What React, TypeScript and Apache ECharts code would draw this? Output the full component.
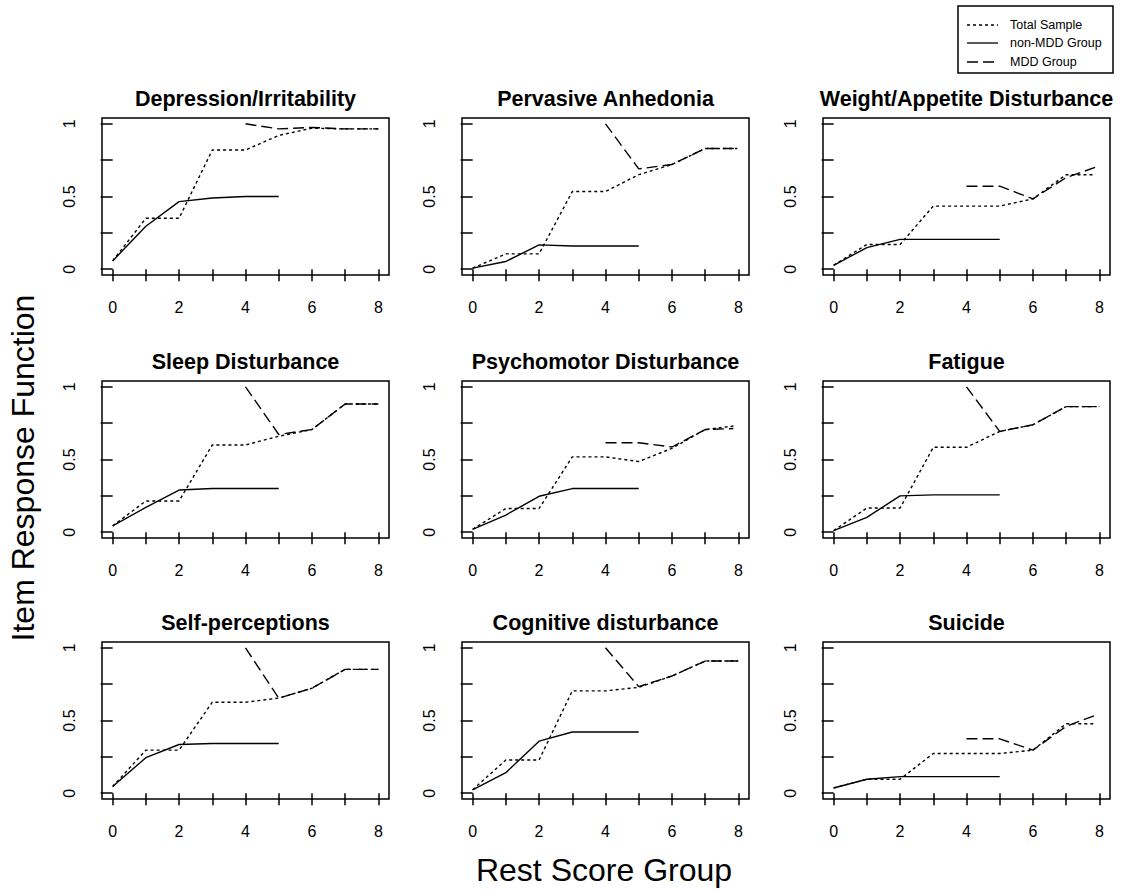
import React, { useEffect, useRef } from "react";
import * as echarts from "echarts";

const itemTitles = [
  "Depression/Irritability",
  "Pervasive Anhedonia",
  "Weight/Appetite Disturbance",
  "Sleep Disturbance",
  "Psychomotor Disturbance",
  "Fatigue",
  "Self-perceptions",
  "Cognitive disturbance",
  "Suicide",
];

// rest score groups (x positions); the last group sits a little below 8 in some panels
const restScore = [0, 1, 2, 3, 4, 5, 6, 7, 8];
const lastGroupScore = [8, 7.97, 7.87, 8, 7.85, 8, 8, 8, 7.87];

// Total Sample (groups 0..8)
const totalSample = [
  [0.057, 0.35, 0.35, 0.82, 0.82, 0.92, 0.97, 0.965, 0.965],
  [0.007, 0.105, 0.105, 0.534, 0.534, 0.65, 0.72, 0.83, 0.83],
  [0.027, 0.17, 0.17, 0.434, 0.434, 0.434, 0.484, 0.65, 0.65],
  [0.043, 0.215, 0.215, 0.6, 0.6, 0.66, 0.706, 0.882, 0.882],
  [0.02, 0.163, 0.163, 0.518, 0.518, 0.486, 0.577, 0.706, 0.73],
  [0.011, 0.166, 0.166, 0.584, 0.584, 0.693, 0.739, 0.864, 0.864],
  [0.046, 0.296, 0.296, 0.626, 0.626, 0.654, 0.722, 0.852, 0.852],
  [0.023, 0.228, 0.228, 0.704, 0.704, 0.728, 0.806, 0.909, 0.909],
  [0.036, 0.096, 0.096, 0.273, 0.273, 0.273, 0.296, 0.478, 0.478],
];

// non-MDD Group (groups 0..5)
const nonMddGroup = [
  [0.057, 0.295, 0.465, 0.49, 0.5, 0.5],
  [0.007, 0.053, 0.167, 0.16, 0.16, 0.16],
  [0.027, 0.148, 0.205, 0.205, 0.205, 0.205],
  [0.043, 0.17, 0.29, 0.3, 0.3, 0.3],
  [0.02, 0.118, 0.247, 0.3, 0.3, 0.3],
  [0.011, 0.102, 0.25, 0.257, 0.257, 0.257],
  [0.046, 0.244, 0.335, 0.342, 0.342, 0.342],
  [0.023, 0.141, 0.358, 0.421, 0.421, 0.421],
  [0.036, 0.096, 0.114, 0.114, 0.114, 0.114],
];

// MDD Group (groups 4..8)
const mddGroup = [
  [1.0, 0.965, 0.975, 0.965, 0.965],
  [1.0, 0.69, 0.72, 0.83, 0.83],
  [0.571, 0.571, 0.484, 0.63, 0.7],
  [1.0, 0.672, 0.706, 0.882, 0.882],
  [0.615, 0.615, 0.586, 0.706, 0.713],
  [1.0, 0.693, 0.739, 0.864, 0.864],
  [1.0, 0.654, 0.722, 0.852, 0.852],
  [1.0, 0.733, 0.806, 0.909, 0.909],
  [0.374, 0.374, 0.296, 0.46, 0.535],
];

const xTicks = [0, 1, 2, 3, 4, 5, 6, 7, 8];
const xTickLabels = [0, 2, 4, 6, 8];
const yTicks = [0, 0.25, 0.5, 0.75, 1];
const yTickLabels = [0, 0.5, 1];

const legendNames = ["Total Sample", "non-MDD Group", "MDD Group"];

const FONT = "'Liberation Sans', Arial, sans-serif";
const colLeft = [102, 462, 823];
const rowTop = [118, 381, 642];
const GW = 287;
const GH = 157;

export default function App() {
  const ref = useRef<HTMLDivElement>(null);
  useEffect(() => {
    if (!ref.current) return;
    const chart = echarts.init(ref.current, null, { renderer: "svg" });
    const grids: any[] = [];
    const xAxes: any[] = [];
    const yAxes: any[] = [];
    const titles: any[] = [];
    const series: any[] = [];
    const lineBase = { color: "#000", width: 1.4 };
    itemTitles.forEach((t, i) => {
      const r = Math.floor(i / 3);
      const c = i % 3;
      grids.push({
        left: colLeft[c],
        top: rowTop[r],
        width: GW,
        height: GH,
        show: true,
        borderColor: "#000",
        borderWidth: 1.5,
        backgroundColor: "transparent",
      });
      titles.push({
        text: t,
        left: colLeft[c] + GW / 2,
        top: rowTop[r] - 32,
        textAlign: "center",
        padding: 0,
        textStyle: { fontFamily: FONT, fontWeight: "bold", fontSize: 21.5, color: "#000", lineHeight: 26 },
      });
      xAxes.push({
        type: "value",
        gridIndex: i,
        min: -0.32,
        max: 8.32,
        axisLine: { show: false },
        splitLine: { show: false },
        axisTick: { show: true, length: 12, customValues: xTicks, lineStyle: { color: "#000", width: 1.5 } },
        axisLabel: { show: true, customValues: xTickLabels, margin: 24, fontFamily: FONT, fontSize: 16, color: "#000" },
      });
      yAxes.push({
        type: "value",
        gridIndex: i,
        min: -0.04,
        max: 1.04,
        axisLine: { show: false },
        splitLine: { show: false },
        axisTick: { show: true, length: 12, customValues: yTicks, lineStyle: { color: "#000", width: 1.5 } },
        axisLabel: { show: true, customValues: yTickLabels, rotate: 90, margin: 25, fontFamily: FONT, fontSize: 16, color: "#000" },
      });
      const xs = restScore.map((x, k) => (k === restScore.length - 1 ? lastGroupScore[i] : x));
      series.push({
        name: legendNames[0],
        type: "line",
        xAxisIndex: i,
        yAxisIndex: i,
        showSymbol: false,
        symbol: "none",
        data: totalSample[i].map((y, k) => [xs[k], y]),
        lineStyle: { ...lineBase, type: [3, 3] },
      });
      series.push({
        name: legendNames[1],
        type: "line",
        xAxisIndex: i,
        yAxisIndex: i,
        showSymbol: false,
        symbol: "none",
        data: nonMddGroup[i].map((y, k) => [xs[k], y]),
        lineStyle: { ...lineBase, type: "solid" },
      });
      series.push({
        name: legendNames[2],
        type: "line",
        xAxisIndex: i,
        yAxisIndex: i,
        showSymbol: false,
        symbol: "none",
        data: mddGroup[i].map((y, k) => [xs[k + 4], y]),
        lineStyle: { ...lineBase, type: [11, 5] },
      });
    });

    const legendY = [25, 43, 62];
    const legendDash: any[] = [[3, 3], null, [11, 5]];
    const graphic: any[] = [
      {
        type: "rect",
        shape: { x: 958, y: 6, width: 155, height: 67 },
        style: { fill: "#fff", stroke: "#000", lineWidth: 1.5 },
      },
      {
        type: "text",
        x: 23,
        y: 468,
        rotation: Math.PI / 2,
        style: {
          text: "Item Response Function",
          font: `32px ${FONT}`,
          fill: "#000",
          textAlign: "center",
          textVerticalAlign: "middle",
        },
      },
      {
        type: "text",
        x: 604,
        y: 870,
        style: {
          text: "Rest Score Group",
          font: `32px ${FONT}`,
          fill: "#000",
          textAlign: "center",
          textVerticalAlign: "middle",
        },
      },
    ];
    legendNames.forEach((n, k) => {
      graphic.push({
        type: "line",
        shape: { x1: 967, y1: legendY[k], x2: 998, y2: legendY[k] },
        style: { stroke: "#000", lineWidth: 1.3, lineDash: legendDash[k] || undefined },
      });
      graphic.push({
        type: "text",
        x: 1010,
        y: legendY[k],
        style: { text: n, font: `12.5px ${FONT}`, fill: "#000", textVerticalAlign: "middle" },
      });
    });

    chart.setOption({
      animation: false,
      backgroundColor: "#fff",
      title: titles,
      grid: grids,
      xAxis: xAxes,
      yAxis: yAxes,
      series,
      graphic,
    });
    return () => chart.dispose();
  }, []);
  return (
    <div
      ref={ref}
      style={{ position: "absolute", left: 0, top: 0, width: 1123, height: 890 }}
    />
  );
}
